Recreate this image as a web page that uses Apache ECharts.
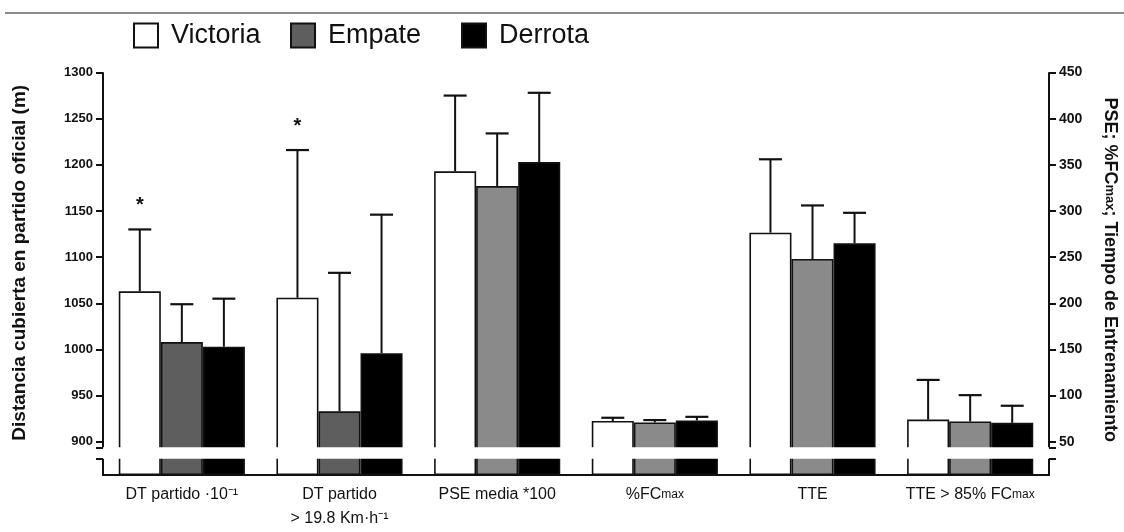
<!DOCTYPE html>
<html><head><meta charset="utf-8">
<script src="https://cdn.jsdelivr.net/npm/echarts@6/dist/echarts.min.js"></script>
<style>html,body{margin:0;padding:0;background:#fff}#c{width:1124px;height:532px}</style>
</head><body><div id="c"></div>
<script>
// ---- data ----
const categories = ['DT partido ·10⁻¹', 'DT partido\n> 19.8 Km·h⁻¹', 'PSE media *100', '%FCmax', 'TTE', 'TTE > 85% FCmax'];
const seriesNames = ['Victoria', 'Empate', 'Derrota'];
// 0 = left axis (m), 1 = right axis
const axisOfCategory = [0, 0, 1, 1, 1, 1];
const victoriaMean = [1063, 1056, 343, 72.5, 276.5, 74];
const victoriaSD   = [67, 160, 82, 3.5, 79.5, 43];
const empateMean   = [1008, 933, 327, 71, 248, 72];
const empateSD     = [41, 150, 57, 2.5, 58, 28.5];
const derrotaMean  = [1003, 996, 353, 73, 265, 70.5];
const derrotaSD    = [52, 150, 75, 4, 33, 18.5];
const significance = ['*', '*', '', '', '', ''];
const leftTickValues  = [900, 950, 1000, 1050, 1100, 1150, 1200, 1250, 1300];
const rightTickValues = [50, 100, 150, 200, 250, 300, 350, 400, 450];
const leftBreak  = { start: 18, end: 894, gap: 12 };
const rightBreak = { start: 18, end: 44, gap: 12 };
const leftAxisMin = 0, leftAxisMax = 1300;
const rightAxisMin = 0, rightAxisMax = 450;
const tickStep = 50;

// ---- styles ----
const fillLeft = ['#ffffff', '#5e5e5e', '#000000'];
const fillRight = ['#ffffff', '#8a8a8a', '#000000'];
const means = [victoriaMean, empateMean, derrotaMean];
const sds = [victoriaSD, empateSD, derrotaSD];
const FONT = 'Liberation Sans, Arial, Helvetica, sans-serif';

function pick(arr, axis) {
  return arr.map((v, i) => axisOfCategory[i] === axis ? v : '-');
}

const barSeries = [];
[0, 1].forEach(axis => {
  seriesNames.forEach((name, si) => {
    barSeries.push({
      type: 'bar', name: name, yAxisIndex: axis, stack: 'S' + si,
      data: pick(means[si], axis),
      barGap: '0%', barCategoryGap: '20%',
      itemStyle: { color: (axis === 0 ? fillLeft : fillRight)[si], borderColor: '#111', borderWidth: 1.6 },
      emphasis: { disabled: true }
    });
  });
});

function errData(axis) {
  const rows = [];
  categories.forEach((c, ci) => {
    if (axisOfCategory[ci] !== axis) return;
    seriesNames.forEach((n, si) => rows.push([ci, si, means[si][ci], sds[si][ci]]));
  });
  return rows;
}

function renderErr(params, api) {
  const ci = api.value(0), si = api.value(1), m = api.value(2), sd = api.value(3);
  const band = api.size([1, 0])[0];
  const bw = band * 0.8 / 3;
  const top = api.coord([ci, m + sd]);
  const base = api.coord([ci, m]);
  const x = top[0] + (si - 1) * bw;
  const half = 11.5;
  const children = [
    { type: 'line', shape: { x1: x, y1: base[1], x2: x, y2: top[1] }, style: { stroke: '#111', lineWidth: 2 } },
    { type: 'line', shape: { x1: x - half, y1: top[1], x2: x + half, y2: top[1] }, style: { stroke: '#111', lineWidth: 2.2 } }
  ];
  if (si === 0 && significance[ci]) {
    children.push({ type: 'text', x: x, y: top[1] - 24, style: { text: significance[ci], fill: '#111', font: 'bold 20px ' + FONT, align: 'center', verticalAlign: 'middle' } });
  }
  return { type: 'group', children: children };
}

const errSeries = [0, 1].map(axis => ({
  type: 'custom', name: 'err' + axis, yAxisIndex: axis,
  dimensions: ['cat', 'ser', 'mean', 'sd'],
  encode: { x: 0, y: 2 },
  data: errData(axis), renderItem: renderErr, z: 5, silent: true
}));

const breakArea = {
  show: true, expandOnClick: false, zigzagAmplitude: 0,
  itemStyle: { color: '#fff', borderColor: '#fff', borderWidth: 0, opacity: 1 }
};
const axisLine = { show: true, lineStyle: { color: '#111', width: 2 } };

const legendLefts = [133, 290, 461];
const legends = seriesNames.map((n, i) => ({
  data: [n], left: legendLefts[i], top: 22, padding: 0, icon: 'rect', itemWidth: 24, itemHeight: 24,
  textStyle: { fontSize: 27, color: '#111', fontFamily: FONT, padding: [0, 0, 0, 8] },
  selectedMode: false
}));

const chart = echarts.init(document.getElementById('c'), null, { renderer: 'canvas' });
chart.setOption({
  animation: false,
  backgroundColor: '#fff',
  textStyle: { fontFamily: FONT },
  graphic: [{ type: 'line', shape: { x1: 5, y1: 13, x2: 1124, y2: 13 }, style: { stroke: '#666', lineWidth: 1.5 } }],
  legend: legends,
  grid: { left: 103, right: 75, top: 72.5, bottom: 57, containLabel: false, outerBoundsMode: 'none' },
  xAxis: {
    type: 'category', data: categories,
    axisLine: { show: true, onZero: false, lineStyle: { color: '#111', width: 2 } },
    axisTick: { show: false },
    axisLabel: {
      fontSize: 16, color: '#111', lineHeight: 24, margin: 8, interval: 0,
      formatter: v => v.replace('max', '{s|max}'),
      rich: { s: { fontSize: 12, color: '#111' } }
    },
    splitLine: { show: false }
  },
  yAxis: [
    {
      type: 'value', position: 'left', min: leftAxisMin, max: leftAxisMax, interval: tickStep,
      breaks: [leftBreak], breakArea: breakArea,
      name: 'Distancia cubierta en partido oficial (m)', nameLocation: 'middle', nameRotate: 90, nameGap: 74,
      nameTextStyle: { fontSize: 19, fontWeight: 'bold', color: '#111', padding: [0, 0, 0, 22] },
      axisLine: axisLine,
      axisTick: { show: true, length: 7, lineStyle: { color: '#111', width: 2 },
        customValues: leftTickValues.concat([leftBreak.start, leftBreak.end]) },
      splitLine: { show: false },
      axisLabel: { fontSize: 13, fontWeight: 'bold', color: '#111', margin: 10, customValues: leftTickValues,
        formatter: v => String(v) }
    },
    {
      type: 'value', position: 'right', min: rightAxisMin, max: rightAxisMax, interval: tickStep,
      breaks: [rightBreak], breakArea: breakArea,
      name: 'PSE; %FC{s|max}; Tiempo de Entrenamiento', nameLocation: 'middle', nameRotate: -90, nameGap: 52,
      nameTextStyle: { fontSize: 18, fontWeight: 'bold', color: '#111', padding: [0, 8, 0, 0], rich: { s: { fontSize: 13, fontWeight: 'bold', color: '#111' } } },
      axisLine: axisLine,
      axisTick: { show: true, length: 7, lineStyle: { color: '#111', width: 2 },
        customValues: rightTickValues.concat([rightBreak.start, rightBreak.end]) },
      splitLine: { show: false },
      axisLabel: { fontSize: 14, fontWeight: 'bold', color: '#111', margin: 10, customValues: rightTickValues,
        formatter: v => String(v) }
    }
  ],
  series: barSeries.concat(errSeries)
});
</script></body></html>
